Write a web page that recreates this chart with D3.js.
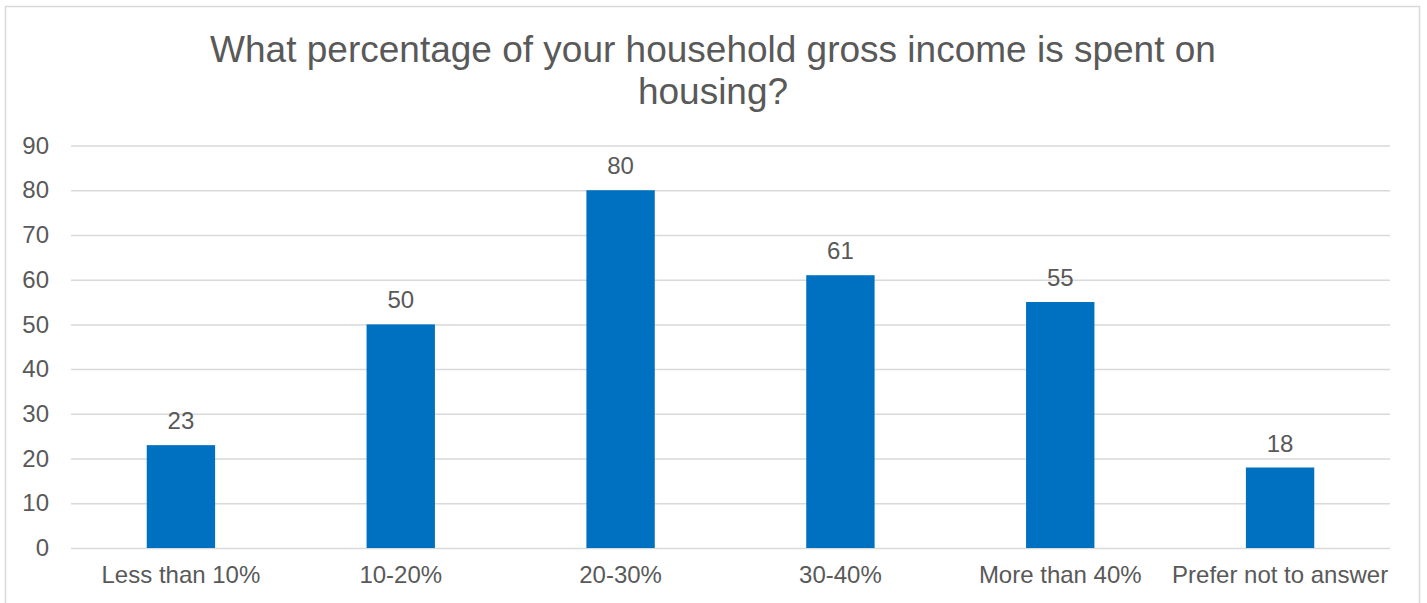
<!DOCTYPE html>
<html>
<head>
<meta charset="utf-8">
<script src="https://cdn.jsdelivr.net/npm/d3@7"></script>
<style>
  html, body { margin: 0; padding: 0; background: #fff; }
  svg { display: block; }
  text { font-family: "Liberation Sans", Arial, sans-serif; fill: #595959; }
</style>
</head>
<body>
<svg id="chart" width="1427" height="603"></svg>
<script>
// Survey responses per income-share bracket
const categories = ["Less than 10%", "10-20%", "20-30%", "30-40%", "More than 40%", "Prefer not to answer"];
const responses = [23, 50, 80, 61, 55, 18];
const yTicks = [0, 10, 20, 30, 40, 50, 60, 70, 80, 90];
const titleLines = ["What percentage of your household gross income is spent on", "housing?"];

const W = 1427, H = 603;
const plot = { left: 71, right: 1390, top: 145.5, bottom: 548 };

const svg = d3.select("#chart");

// Outer chart frame (bottom edge runs past the viewport)
svg.append("rect")
  .attr("x", 5.5).attr("y", 6.5)
  .attr("width", 1414).attr("height", 620)
  .attr("fill", "#fff")
  .attr("stroke", "#d9d9d9")
  .attr("stroke-width", 1.5);

// Title
const title = svg.append("text")
  .attr("text-anchor", "middle")
  .style("font-size", "37px");
titleLines.forEach((line, i) => {
  title.append("tspan")
    .attr("x", 713)
    .attr("y", 62 + i * 41.5)
    .text(line);
});

const x = d3.scaleBand()
  .domain(categories)
  .range([plot.left, plot.right])
  .paddingInner(0.689)
  .paddingOuter(0.3445);

const y = d3.scaleLinear()
  .domain([0, 90])
  .range([plot.bottom, plot.top]);

// Horizontal gridlines with value labels
const yAxis = d3.axisLeft(y)
  .tickValues(yTicks)
  .tickSize(-(plot.right - plot.left))
  .tickPadding(22);

const gY = svg.append("g")
  .attr("transform", `translate(${plot.left},0)`)
  .call(yAxis);
gY.select(".domain").remove();
gY.selectAll(".tick line")
  .attr("stroke", "#d9d9d9")
  .attr("stroke-width", 1.5);
gY.selectAll(".tick text")
  .attr("fill", "#595959")
  .style("font-size", "24px")
  .style("font-family", "'Liberation Sans', Arial, sans-serif");

// Category labels
const xAxis = d3.axisBottom(x).tickSize(0).tickPadding(0);
const gX = svg.append("g")
  .attr("transform", `translate(0,${plot.bottom})`)
  .call(xAxis);
gX.select(".domain").remove();
gX.selectAll(".tick text")
  .attr("y", 35)
  .attr("dy", 0)
  .attr("fill", "#595959")
  .style("font-size", "24px")
  .style("font-family", "'Liberation Sans', Arial, sans-serif");

// Bars
const data = categories.map((c, i) => ({ category: c, value: responses[i] }));

svg.append("g")
  .selectAll("rect")
  .data(data)
  .join("rect")
  .attr("x", d => x(d.category))
  .attr("y", d => y(d.value))
  .attr("width", x.bandwidth())
  .attr("height", d => y(0) - y(d.value))
  .attr("fill", "#0070C0");

// Value labels above bars
svg.append("g")
  .selectAll("text")
  .data(data)
  .join("text")
  .attr("x", d => x(d.category) + x.bandwidth() / 2)
  .attr("y", d => y(d.value) - 16)
  .attr("text-anchor", "middle")
  .style("font-size", "24px")
  .text(d => d.value);
</script>
</body>
</html>
